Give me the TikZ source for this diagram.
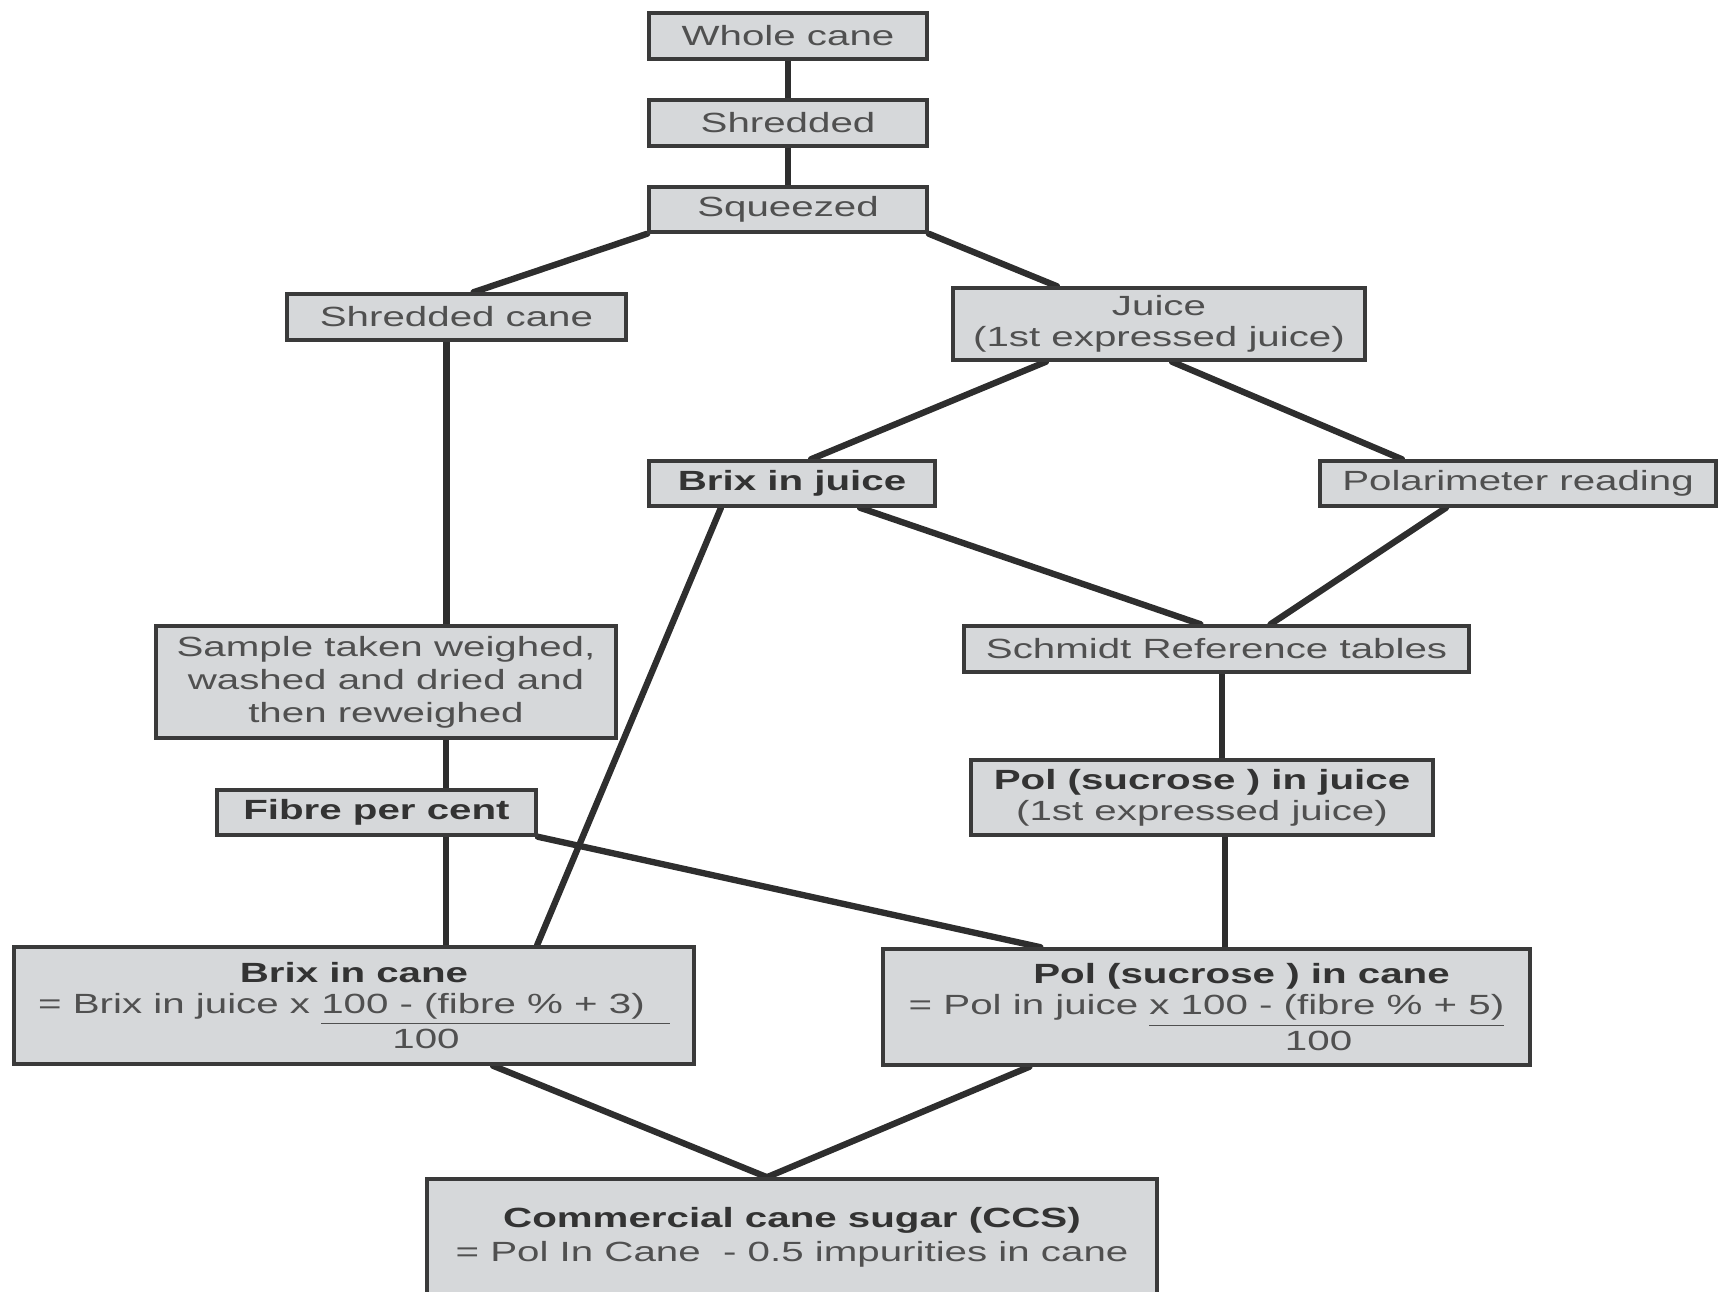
\documentclass[tikz,border=0pt]{standalone}
\usepackage{fontspec}
\setmainfont{Liberation Sans}[FakeStretch=1.45]
\usepackage{xcolor}
\usetikzlibrary{backgrounds}
\definecolor{boxfill}{HTML}{D6D8DA}
\definecolor{boxline}{HTML}{3A3A3A}
\definecolor{txtgray}{HTML}{505050}
\definecolor{headgray}{HTML}{333333}
\definecolor{linkgray}{HTML}{2E2E2E}
\newcommand{\hdtext}[1]{{\bfseries\color{headgray}#1}}

\begin{document}
\begin{tikzpicture}[x=0.01cm,y=-0.01cm,
  canebox/.style={draw=boxline,line width=1pt,fill=boxfill,text=txtgray,
    align=center,inner sep=0pt,font=\fontsize{7.9}{8.8}\selectfont},
  link/.style={draw=linkgray,line width=1.8pt,line cap=round}]
\useasboundingbox (0,0) rectangle (1718,1292);

% top chain
\node[canebox,minimum width=2.78cm,minimum height=0.46cm] (whole) at (788,36) {Whole cane};
\node[canebox,minimum width=2.78cm,minimum height=0.46cm] (shred) at (788,123) {Shredded};
\node[canebox,minimum width=2.78cm,minimum height=0.45cm] (squeeze) at (788,209.5) {Squeezed};

% two branches
\node[canebox,minimum width=3.39cm,minimum height=0.46cm] (shcane) at (456.5,317) {Shredded cane};
\node[canebox,minimum width=4.12cm,minimum height=0.72cm] (juice) at (1159,324) {Juice\\(1st expressed juice)};
\node[canebox,minimum width=2.86cm,minimum height=0.45cm] (brixj) at (792,483.5) {\hdtext{Brix in juice}};
\node[canebox,minimum width=3.96cm,minimum height=0.45cm] (polar) at (1518,483.5) {Polarimeter reading};
\node[canebox,minimum width=5.05cm,minimum height=0.46cm] (schmidt) at (1216.5,649) {Schmidt Reference tables};
\node[canebox,minimum width=4.60cm,minimum height=1.12cm,font=\fontsize{7.9}{9.4}\selectfont] (sample) at (386,682)
  {Sample taken weighed,\\washed and dried and\\then reweighed};
\node[canebox,minimum width=3.19cm,minimum height=0.45cm] (fibre) at (376.5,812.5) {\hdtext{Fibre per cent}};
\node[canebox,minimum width=4.62cm,minimum height=0.75cm] (polj) at (1202,797.5)
  {\hdtext{Pol (sucrose ) in juice}\\(1st expressed juice)};

% results
\node[canebox,minimum width=6.80cm,minimum height=1.17cm] (brixc) at (354,1005.5)
  {\hdtext{Brix in cane}\\= Brix in juice x \underline{100 - (fibre \% + 3)\hspace{0.25cm}}\\\hspace*{1.44cm}100};
\node[canebox,minimum width=6.47cm,minimum height=1.16cm] (polc) at (1206.5,1007)
  {\hspace*{0.7cm}\hdtext{Pol (sucrose ) in cane}\\= Pol in juice \underline{x 100 - (fibre \% + 5)}\\\hspace*{2.24cm}100};
\node[canebox,minimum width=7.30cm,minimum height=1.17cm,font=\fontsize{7.9}{9.6}\selectfont] (ccs) at (792,1237.5)
  {\hdtext{Commercial cane sugar (CCS)}\\= Pol In Cane~ - 0.5 impurities in cane};

\begin{scope}[on background layer]
\draw[link] (whole) -- (shred);
\draw[link] (shred) -- (squeeze);
\draw[link] (squeeze.south west) -- ([xshift=0.17cm]shcane.north);
\draw[link] (squeeze.south east) -- ([xshift=-1.02cm]juice.north);
\draw[link] ([xshift=-1.13cm]juice.south) -- ([xshift=0.19cm]brixj.north);
\draw[link] ([xshift=0.13cm]juice.south) -- ([xshift=-1.16cm]polar.north);
\draw[link] ([xshift=-0.1cm]shcane.south) -- ([xshift=-0.1cm]shcane.south |- sample.north);
\draw[link] ([xshift=0.68cm]brixj.south) -- ([xshift=-0.16cm]schmidt.north);
\draw[link] ([xshift=-0.72cm]polar.south) -- ([xshift=0.54cm]schmidt.north);
\draw[link] ([xshift=-0.71cm]brixj.south) -- ([xshift=1.83cm]brixc.north);
\draw[link] ([xshift=0.6cm]sample.south) -- ([xshift=0.6cm]sample.south |- fibre.north);
\draw[link] ([xshift=0.695cm]fibre.south) -- ([xshift=0.695cm]fibre.south |- brixc.north);
\draw[link] (fibre.south east) -- ([xshift=-1.66cm]polc.north);
\draw[link] ([xshift=0.055cm]schmidt.south) -- ([xshift=0.055cm]schmidt.south |- polj.north);
\draw[link] ([xshift=0.23cm]polj.south) -- ([xshift=0.23cm]polj.south |- polc.north);
\draw[link] ([xshift=1.39cm]brixc.south) -- ([xshift=-0.25cm]ccs.north);
\draw[link] ([xshift=-1.77cm]polc.south) -- ([xshift=-0.25cm]ccs.north);
\end{scope}
\end{tikzpicture}
\end{document}
